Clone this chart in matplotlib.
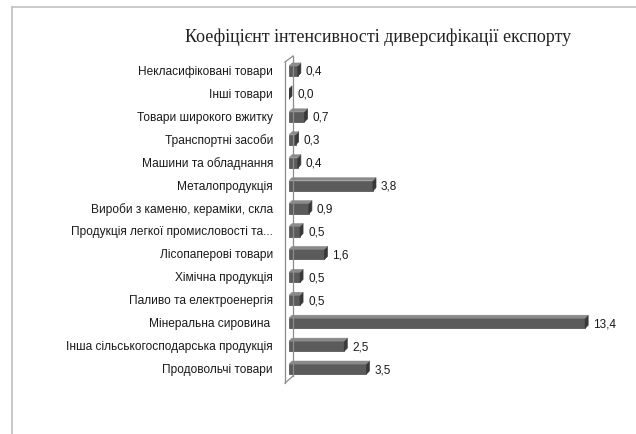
import matplotlib
matplotlib.use("Agg")
import matplotlib.pyplot as plt
from matplotlib.patches import Polygon
from matplotlib.lines import Line2D
import matplotlib.transforms as mtransforms

categories = [
    "Продовольчі товари",
    "Інша сільськогосподарська продукція",
    "Мінеральна сировина ",
    "Паливо та електроенергія",
    "Хімічна продукція",
    "Лісопаперові товари",
    "Продукція легкої промисловості та...",
    "Вироби з каменю, кераміки, скла",
    "Металопродукція",
    "Машини та обладнання",
    "Транспортні засоби",
    "Товари широкого вжитку",
    "Інші товари",
    "Некласифіковані товари",
]
values = [3.5, 2.5, 13.4, 0.5, 0.5, 1.6, 0.5, 0.9, 3.8, 0.4, 0.3, 0.7, 0.0, 0.4]
title = "Коефіцієнт інтенсивності диверсифікації експорту"

W, H = 636, 435
fig = plt.figure(figsize=(W / 100, H / 100), dpi=100)
fig.patch.set_facecolor("white")

# axes in pixel geometry
x0_px, x1_px = 289, 620.5
ytop_px, ybot_px = 60.5, 381.5
ax = fig.add_axes([x0_px / W, 1 - ybot_px / H, (x1_px - x0_px) / W, (ybot_px - ytop_px) / H])
ax.set_xlim(0, 15)
ax.set_ylim(-0.5, len(categories) - 0.5)
ax.axis("off")

bh = 0.44
ypos = list(range(len(categories)))
front = "#5b5b5b"
side = "#383838"
top = "#8a8a8a"
dx, dy = 3, 3  # pixel depth

ax.barh(ypos, values, height=bh, color=front, edgecolor="#4a4a4a", linewidth=0.5, zorder=3)

# 3D faces using pixel offsets
off = mtransforms.offset_copy(ax.transData, fig=fig, x=dx, y=dy, units="dots")
inv = ax.transData.inverted()
for y, v in zip(ypos, values):
    p0 = ax.transData.transform((v, y - bh / 2))
    p1 = ax.transData.transform((v, y + bh / 2))
    p2 = off.transform((v, y + bh / 2))
    p3 = off.transform((v, y - bh / 2))
    pts = inv.transform([p0, p1, p2, p3])
    ax.add_patch(Polygon(pts, closed=True, facecolor=side, edgecolor=side, linewidth=0.5, zorder=4))
    q0 = ax.transData.transform((0, y + bh / 2))
    q1 = ax.transData.transform((v, y + bh / 2))
    q2 = off.transform((v, y + bh / 2))
    q3 = off.transform((0, y + bh / 2))
    pts2 = inv.transform([q0, q1, q2, q3])
    ax.add_patch(Polygon(pts2, closed=True, facecolor=top, edgecolor=top, linewidth=0.3, zorder=4))
    ax.annotate(f"{v:.1f}".replace(".", ","), xy=(v, y), xytext=(8, 0),
                textcoords="offset pixels", va="center", ha="left",
                fontsize=8.5, family="Liberation Sans", color="#1a1a1a")
    ax.annotate(categories[y], xy=(0, y), xytext=(-16, 0),
                textcoords="offset pixels", va="center", ha="right",
                fontsize=8.6, family="Liberation Sans", color="#1a1a1a", annotation_clip=False)

# wall (side panel)
def fp(x, y):
    return (x / W, 1 - y / H)

wall_col = "#8c8c8c"
for seg in [((285, 63), (285, 384)), ((293, 57), (293, 377)),
            ((285, 63), (293, 57)), ((285, 384), (293, 377))]:
    (xa, ya), (xb, yb) = seg
    fig.add_artist(Line2D([fp(xa, ya)[0], fp(xb, yb)[0]], [fp(xa, ya)[1], fp(xb, yb)[1]],
                          color=wall_col, linewidth=0.9, zorder=1))

# outer frame
fig.add_artist(Line2D([12 / W, 12 / W], [0, 1 - 8 / H], color="#c0c0c0", linewidth=1.2))
fig.add_artist(Line2D([12 / W, 1], [1 - 8 / H, 1 - 8 / H], color="#c0c0c0", linewidth=1.2))

fig.text(378 / W, 1 - 37 / H, title, ha="center", va="center",
         fontsize=13, family="Liberation Serif", color="#222222")

fig.savefig("out.png", dpi=100)
